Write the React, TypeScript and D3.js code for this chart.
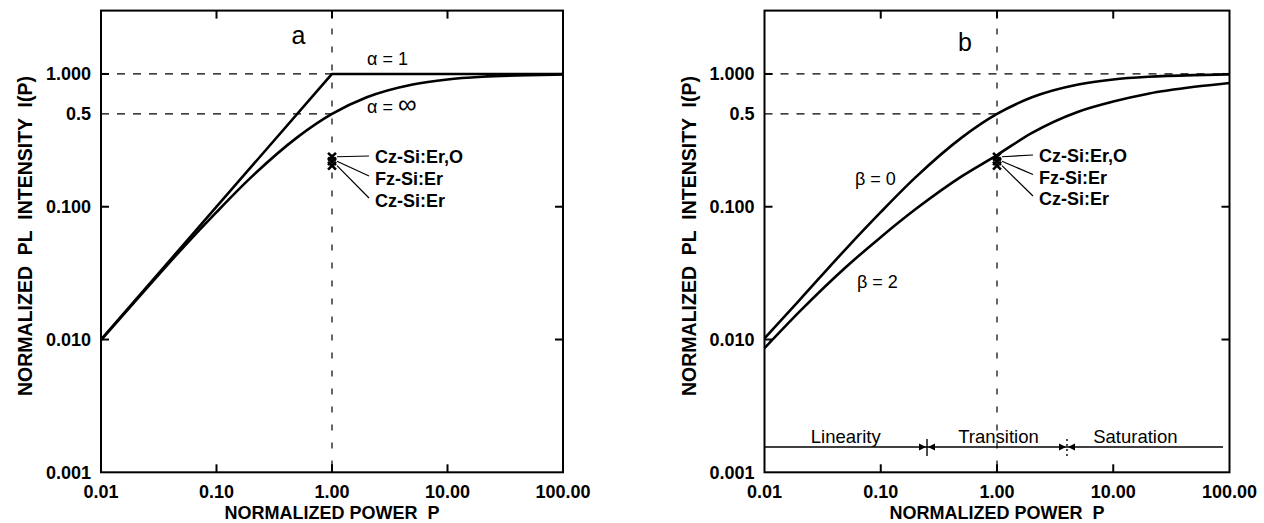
import React from "react";
import * as d3 from "d3";

// ---- data ----
const powerP = [0.01, 0.02, 0.05, 0.1, 0.2, 0.5, 1, 2, 5, 10, 20, 50, 100];
const alphaOneP = [0.01, 1, 100];
const alphaOneI = [0.01, 1, 1];
const alphaInfI = [0.0099, 0.0196, 0.048, 0.091, 0.167, 0.333, 0.5, 0.667, 0.833, 0.909, 0.952, 0.98, 0.99];
const beta0I = [0.0102, 0.0198, 0.048, 0.091, 0.167, 0.333, 0.5, 0.667, 0.833, 0.909, 0.952, 0.98, 0.99];
const beta2I = [0.0086, 0.0162, 0.035, 0.059, 0.096, 0.17, 0.245, 0.36, 0.52, 0.62, 0.71, 0.8, 0.856];
const sampleNames = ["Cz-Si:Er,O", "Fz-Si:Er", "Cz-Si:Er"];
const sampleP = [1, 1, 1];
const sampleI = [0.238, 0.22, 0.204];
const xTicks = [0.01, 0.1, 1, 10, 100];
const xTickLabels = ["0.01", "0.10", "1.00", "10.00", "100.00"];
const yTicks = [0.001, 0.01, 0.1, 0.5, 1];
const yTickLabels = ["0.001", "0.010", "0.100", "0.5", "1.000"];
const regionNames = ["Linearity", "Transition", "Saturation"];
const regionCenters = [0.05, 1.03, 15.5];
const regionBounds = [0.01, 0.25, 4, 88];
const regionLevel = 0.00155;

const FONT = "'Liberation Sans', Arial, Helvetica, sans-serif";

type PanelProps = { id: "a" | "b"; x0: number; x1: number };

const Y0 = 472.3;
const Y1 = 10.6;

function Panel({ id, x0, x1 }: PanelProps) {
  const x = d3.scaleLog().domain([0.01, 100]).range([x0, x1]);
  const y = d3.scaleLog().domain([0.001, 3]).range([Y0, Y1]);
  const line = d3
    .line<[number, number]>()
    .x((d) => x(d[0]))
    .y((d) => y(d[1]))
    .curve(d3.curveMonotoneX);
  const lin = d3
    .line<[number, number]>()
    .x((d) => x(d[0]))
    .y((d) => y(d[1]));
  const zip = (a: number[], b: number[]) => a.map((v, i) => [v, b[i]] as [number, number]);

  const curves =
    id === "a"
      ? [lin(zip(alphaOneP, alphaOneI)), line(zip(powerP, alphaInfI))]
      : [line(zip(powerP, beta0I)), line(zip(powerP, beta2I))];

  const cx = (x0 + x1) / 2;
  const px1 = x(1);
  const labelX = id === "a" ? 375 : 1039;
  const baselines = id === "a" ? [163, 185, 207] : [162, 183.5, 205];
  const symbol = d3.symbol().type(d3.symbolTimes).size(42);

  return (
    <g>
      {/* dashed reference lines */}
      <line x1={x0} x2={id === "a" ? px1 : x1} y1={y(1)} y2={y(1)} stroke="#000" strokeWidth={1.2} strokeDasharray="8,8" />
      <line x1={x0} x2={px1} y1={y(0.5)} y2={y(0.5)} stroke="#000" strokeWidth={1.2} strokeDasharray="8,8" />
      <line x1={px1} x2={px1} y1={Y1} y2={Y0} stroke="#000" strokeWidth={1.2} strokeDasharray="6,12" />

      {/* frame */}
      <rect x={x0} y={Y1} width={x1 - x0} height={Y0 - Y1} fill="none" stroke="#000" strokeWidth={2} />
      {xTicks.slice(1, -1).map((t) => (
        <g key={"xt" + t}>
          <line x1={x(t)} x2={x(t)} y1={Y0} y2={Y0 - 8} stroke="#000" strokeWidth={2} />
          <line x1={x(t)} x2={x(t)} y1={Y1} y2={Y1 + 8} stroke="#000" strokeWidth={2} />
        </g>
      ))}
      {[0.01, 0.1, 1].map((t) => (
        <g key={"yt" + t}>
          <line x1={x0} x2={x0 + 8} y1={y(t)} y2={y(t)} stroke="#000" strokeWidth={2} />
          <line x1={x1} x2={x1 - 8} y1={y(t)} y2={y(t)} stroke="#000" strokeWidth={2} />
        </g>
      ))}

      {/* tick labels */}
      {xTicks.map((t, i) => (
        <text key={"xl" + t} x={x(t)} y={498} textAnchor="middle" fontFamily={FONT} fontWeight="bold" fontSize={18}>
          {xTickLabels[i]}
        </text>
      ))}
      {yTicks.map((t, i) => (
        <text key={"yl" + t} x={x0 - 10} y={y(t)} dy="0.36em" textAnchor="end" fontFamily={FONT} fontWeight="bold" fontSize={18}>
          {yTickLabels[i]}
        </text>
      ))}

      {/* axis titles */}
      <text x={cx} y={519} textAnchor="middle" fontFamily={FONT} fontWeight="bold" fontSize={18} style={{ whiteSpace: "pre" }}>
        {"NORMALIZED POWER  P"}
      </text>
      <text
        transform={`translate(${x0 - 69},236) rotate(-90)`}
        textAnchor="middle"
        fontFamily={FONT}
        fontWeight="bold"
        fontSize={19.5}
        style={{ whiteSpace: "pre" }}
      >
        {"NORMALIZED  PL  INTENSITY  I(P)"}
      </text>

      {/* curves */}
      {curves.map((c, i) => (
        <path key={"c" + i} d={c || ""} fill="none" stroke="#000" strokeWidth={2.6} strokeLinejoin="round" />
      ))}

      {/* samples */}
      {sampleI.map((v, i) => (
        <path key={"s" + i} d={symbol() || ""} transform={`translate(${x(sampleP[i])},${y(v)})`} fill="none" stroke="#000" strokeWidth={2.6} />
      ))}
      {sampleI.map((v, i) => (
        <line
          key={"ll" + i}
          x1={x(sampleP[i]) + 5}
          y1={y(v)}
          x2={labelX - 6}
          y2={baselines[i] - 7 + (i === 0 ? 0 : -2)}
          stroke="#000"
          strokeWidth={1.2}
        />
      ))}
      {sampleNames.map((n, i) => (
        <text key={"sn" + i} x={labelX} y={baselines[i]} fontFamily={FONT} fontWeight="bold" fontSize={18}>
          {n}
        </text>
      ))}

      {/* panel letter and curve labels */}
      {id === "a" ? (
        <g fontFamily={FONT} fontSize={18}>
          <text x={298.5} y={44} textAnchor="middle" fontSize={25}>a</text>
          <text x={367} y={65}>α = 1</text>
          <text x={367} y={113}>
            α = <tspan fontSize={26}>∞</tspan>
          </text>
        </g>
      ) : (
        <g fontFamily={FONT} fontSize={18}>
          <text x={965} y={51} textAnchor="middle" fontSize={25}>b</text>
          <text x={855} y={185}>β = 0</text>
          <text x={857} y={288}>β = 2</text>
        </g>
      )}

      {/* regimes */}
      {id === "b" && (
        <g>
          <line x1={x0} x2={x(regionBounds[3])} y1={y(regionLevel)} y2={y(regionLevel)} stroke="#000" strokeWidth={1.4} />
          {regionNames.map((n, i) => (
            <text key={n} x={x(regionCenters[i])} y={y(regionLevel) - 4} textAnchor="middle" fontFamily={FONT} fontSize={18.5}>
              {n}
            </text>
          ))}
          {[regionBounds[1], regionBounds[2]].map((b, i) => {
            const bx = x(b);
            const by = y(regionLevel);
            return (
              <g key={"rb" + i}>
                <line x1={bx} x2={bx} y1={by - 8} y2={by + 9} stroke="#000" strokeWidth={1.4} strokeDasharray={i === 0 ? undefined : "2,3"} />
                <path d={`M${bx - 1},${by} L${bx - 8},${by - 3.5} L${bx - 8},${by + 3.5} Z`} fill="#000" />
                <path d={`M${bx + 1},${by} L${bx + 8},${by - 3.5} L${bx + 8},${by + 3.5} Z`} fill="#000" />
              </g>
            );
          })}
        </g>
      )}
    </g>
  );
}

export default function App() {
  return (
    <svg width={1264} height={523} style={{ position: "absolute", left: 0, top: 0, background: "#fff" }}>
      <rect width={1264} height={523} fill="#fff" />
      <Panel id="a" x0={101} x1={563} />
      <Panel id="b" x0={764.5} x1={1229.5} />
    </svg>
  );
}
